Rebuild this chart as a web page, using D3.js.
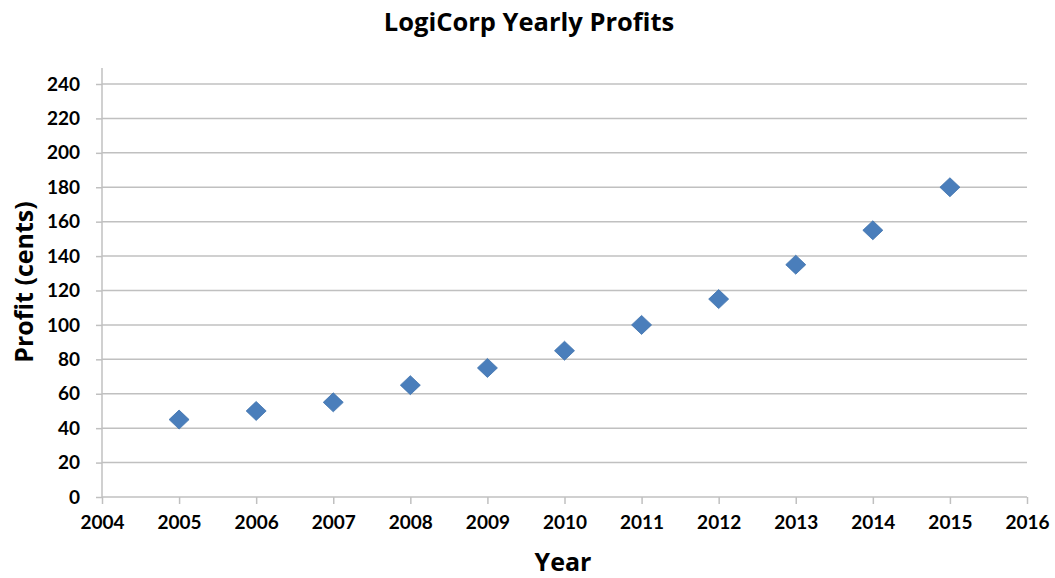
<!DOCTYPE html>
<html>
<head>
<meta charset="utf-8">
<script src="https://cdn.jsdelivr.net/npm/d3@7/dist/d3.min.js"></script>
<style>
  html, body { margin: 0; padding: 0; background: #ffffff; }
  svg { display: block; }
  text { font-family: Lato, "Open Sans", sans-serif; font-weight: bold; fill: #000; }
  .title { font-family: "Open Sans", Lato, sans-serif; }
</style>
</head>
<body>
<svg id="chart" width="1055" height="578"></svg>
<script>
// Yearly profit figures (cents)
const years = [2005, 2006, 2007, 2008, 2009, 2010, 2011, 2012, 2013, 2014, 2015];
const profits = [45, 50, 55, 65, 75, 85, 100, 115, 135, 155, 180];

// Axis tick values
const xTicks = [2004, 2005, 2006, 2007, 2008, 2009, 2010, 2011, 2012, 2013, 2014, 2015, 2016];
const yTicks = [0, 20, 40, 60, 80, 100, 120, 140, 160, 180, 200, 220, 240];

const chartTitle = "LogiCorp Yearly Profits";
const xTitle = "Year";
const yTitle = "Profit (cents)";

const svg = d3.select("#chart");
const plot = { left: 102, right: 1027, top: 84, bottom: 497 };

const x = d3.scaleLinear().domain([2004, 2016]).range([plot.left, plot.right]);
const y = d3.scaleLinear().domain([0, 240]).range([plot.bottom, plot.top]);

const gridColor = "#c0c0c0";

// Horizontal gridlines
svg.append("g")
  .selectAll("line")
  .data(yTicks.filter(d => d > 0))
  .join("line")
  .attr("x1", plot.left).attr("x2", plot.right)
  .attr("y1", d => y(d)).attr("y2", d => y(d))
  .attr("stroke", gridColor).attr("stroke-width", 1.5);

// Y axis
const yAxis = svg.append("g")
  .attr("transform", `translate(${plot.left},0)`)
  .call(d3.axisLeft(y).tickValues(yTicks).tickSize(6).tickPadding(16).tickFormat(d3.format("d")));
yAxis.select(".domain").attr("stroke", gridColor).attr("stroke-width", 1.5)
  .attr("d", `M0,${plot.top - 16}V${plot.bottom}`);
yAxis.selectAll(".tick line").attr("stroke", gridColor).attr("stroke-width", 1.5);
yAxis.selectAll(".tick text").style("font-size", "19px").attr("fill", "#000");

// X axis
const xAxis = svg.append("g")
  .attr("transform", `translate(0,${plot.bottom})`)
  .call(d3.axisBottom(x).tickValues(xTicks).tickSize(7).tickPadding(12).tickFormat(d3.format("d")));
xAxis.select(".domain").attr("stroke", gridColor).attr("stroke-width", 1.5)
  .attr("d", `M${plot.left},0H${plot.right}`);
xAxis.selectAll(".tick line").attr("stroke", gridColor).attr("stroke-width", 1.5);
xAxis.selectAll(".tick text").style("font-size", "19px").attr("fill", "#000");

// Diamond markers
const points = years.map((yr, i) => ({ year: yr, value: profits[i] }));
svg.append("g")
  .selectAll("path")
  .data(points)
  .join("path")
  .attr("transform", d => `translate(${x(d.year)},${y(d.value)})`)
  .attr("d", "M0,-9.5L10,0L0,9.5L-10,0Z")
  .attr("fill", "#4a7ebb")
  .attr("stroke", "#3f72ad")
  .attr("stroke-width", 0.8);

// Titles
svg.append("text")
  .attr("class", "title")
  .attr("x", 529).attr("y", 31)
  .attr("text-anchor", "middle")
  .style("font-size", "25.5px")
  .text(chartTitle);

svg.append("text")
  .attr("class", "title")
  .attr("x", 563).attr("y", 571)
  .attr("text-anchor", "middle")
  .style("font-size", "25px")
  .text(xTitle);

svg.append("text")
  .attr("class", "title")
  .attr("transform", "translate(33,282) rotate(-90)")
  .attr("text-anchor", "middle")
  .style("font-size", "25px")
  .text(yTitle);
</script>
</body>
</html>
